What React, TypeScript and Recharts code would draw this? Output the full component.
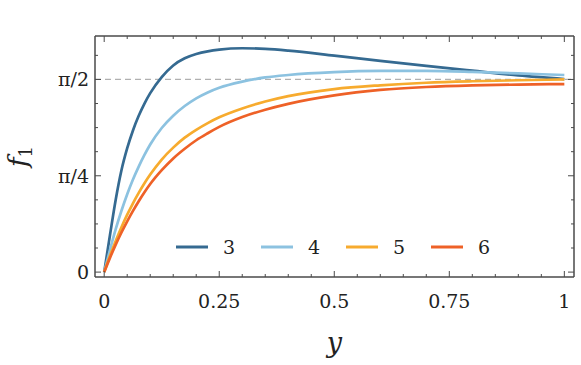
import { LineChart, Line, XAxis, YAxis, ReferenceLine } from "recharts";

const xs = [0, 0.0125, 0.025, 0.0375, 0.05, 0.0625, 0.075, 0.0875, 0.1, 0.125, 0.15, 0.175, 0.2, 0.225, 0.25, 0.3, 0.35, 0.4, 0.5, 0.6, 0.7, 0.8, 0.9, 1.0];
const n3 = [0, 0.3, 0.59, 0.83, 1.01, 1.155, 1.274, 1.374, 1.459, 1.59, 1.685, 1.743, 1.778, 1.8, 1.814, 1.825, 1.82, 1.806, 1.765, 1.722, 1.681, 1.642, 1.604, 1.574];
const n4 = [0, 0.18, 0.35, 0.5, 0.635, 0.755, 0.86, 0.955, 1.04, 1.175, 1.275, 1.354, 1.417, 1.465, 1.503, 1.553, 1.587, 1.607, 1.63, 1.64, 1.641, 1.633, 1.62, 1.607];
const n5 = [0, 0.133, 0.254, 0.366, 0.468, 0.561, 0.646, 0.724, 0.795, 0.918, 1.015, 1.096, 1.16, 1.215, 1.262, 1.334, 1.391, 1.435, 1.492, 1.523, 1.544, 1.556, 1.564, 1.571];
const n6 = [0, 0.116, 0.224, 0.323, 0.414, 0.499, 0.578, 0.651, 0.718, 0.831, 0.927, 1.006, 1.075, 1.132, 1.184, 1.264, 1.324, 1.372, 1.441, 1.485, 1.509, 1.522, 1.529, 1.533];

const seriesNames = ["3", "4", "5", "6"];
const colors = ["#356a91", "#8cc2e0", "#f7ab2e", "#ee6127"];

const xTicks = Array.from({ length: 21 }, (_, i) => i * 0.05);
const yTicks = Array.from({ length: 10 }, (_, i) => (i * Math.PI) / 16);
const yTickLabels = ["0", "π/4", "π/2"];

const data = xs.map((x, i) => ({ x, n3: n3[i], n4: n4[i], n5: n5[i], n6: n6[i] }));

const FONT = "DejaVu Serif";
const FRAME = "#4a4a4a";
const xDomain = [-0.02, 1.021];
const yDomain = [-0.04, 1.925];

const isMajorX = (v: number) => Math.abs(v * 4 - Math.round(v * 4)) < 1e-6;
const yMajorIndex = (v: number) => {
  const q = v / (Math.PI / 4);
  return Math.abs(q - Math.round(q)) < 1e-6 ? Math.round(q) : -1;
};

function BottomTick(props: any) {
  const { x, y, payload } = props;
  const major = isMajorX(payload.value);
  return (
    <g>
      <line x1={x} y1={y} x2={x} y2={y - (major ? 6 : 3)} stroke={FRAME} strokeWidth={1} />
      {major && (
        <text x={x} y={y + 31} textAnchor="middle" style={{ fontFamily: FONT, fontSize: 19 }} fill="#222">
          {String(Math.round(payload.value * 100) / 100)}
        </text>
      )}
    </g>
  );
}

function TopTick(props: any) {
  const { x, y, payload } = props;
  const major = isMajorX(payload.value);
  return <line x1={x} y1={y} x2={x} y2={y + (major ? 6 : 3)} stroke={FRAME} strokeWidth={1} />;
}

function LeftTick(props: any) {
  const { x, y, payload } = props;
  const idx = yMajorIndex(payload.value);
  return (
    <g>
      <line x1={x} y1={y} x2={x + (idx >= 0 ? 6 : 3)} y2={y} stroke={FRAME} strokeWidth={1} />
      {idx >= 0 && (
        <text x={x - 6} y={y + 7} textAnchor="end" style={{ fontFamily: FONT, fontSize: 19 }} fill="#222">
          {yTickLabels[idx]}
        </text>
      )}
    </g>
  );
}

function RightTick(props: any) {
  const { x, y, payload } = props;
  const idx = yMajorIndex(payload.value);
  return <line x1={x} y1={y} x2={x - (idx >= 0 ? 6 : 3)} y2={y} stroke={FRAME} strokeWidth={1} />;
}

function LegendBox() {
  return (
    <div style={{ position: "absolute", top: 236, left: 176, display: "flex", alignItems: "center", fontFamily: FONT, fontSize: 19, color: "#222" }}>
      {seriesNames.map((name, i) => (
        <div key={name} style={{ display: "flex", alignItems: "center", width: 85 }}>
          <svg width={32} height={4} style={{ marginRight: 15 }}>
            <line x1={0} y1={2} x2={32} y2={2} stroke={colors[i]} strokeWidth={3} />
          </svg>
          <span>{name}</span>
        </div>
      ))}
    </div>
  );
}

const frameLine = { stroke: FRAME, strokeWidth: 1.5 };

export default function App() {
  return (
    <div style={{ position: "relative", width: 581, height: 365 }}>
      <style>{`body{margin:0;overflow:hidden;background:#fff}`}</style>
      <LineChart width={581} height={365} data={data} margin={{ top: 35, right: 6, left: 35, bottom: 38 }}>
        <XAxis
          xAxisId="main"
          dataKey="x"
          type="number"
          domain={xDomain}
          allowDataOverflow
          ticks={xTicks}
          interval={0}
          tick={<BottomTick />}
          tickLine={false}
          axisLine={frameLine}
          tickSize={0}
          tickMargin={0}
          height={50}
          label={{
            content: (p: any) => {
              const vb = p.viewBox || {};
              return (
                <text x={vb.x + vb.width / 2} y={vb.y + 75} textAnchor="middle" style={{ fontFamily: FONT, fontStyle: "italic", fontSize: 27 }} fill="#222">
                  y
                </text>
              );
            },
          }}
        />
        <XAxis
          xAxisId="top"
          dataKey="x"
          type="number"
          orientation="top"
          domain={xDomain}
          allowDataOverflow
          ticks={xTicks}
          interval={0}
          tick={<TopTick />}
          tickLine={false}
          axisLine={frameLine}
          tickSize={0}
          tickMargin={0}
          height={1}
        />
        <YAxis
          yAxisId="main"
          type="number"
          domain={yDomain}
          allowDataOverflow
          ticks={yTicks}
          interval={0}
          tick={<LeftTick />}
          tickLine={false}
          axisLine={frameLine}
          tickSize={0}
          tickMargin={0}
          width={60}
          label={{
            content: (p: any) => {
              const vb = p.viewBox || {};
              const cx = vb.x - 8;
              const cy = vb.y + vb.height / 2;
              return (
                <text transform={`rotate(-90, ${cx}, ${cy})`} x={cx} y={cy} textAnchor="middle" style={{ fontFamily: FONT }} fill="#222">
                  <tspan style={{ fontStyle: "italic", fontSize: 26 }}>f</tspan>
                  <tspan style={{ fontSize: 18 }} dy={5}>1</tspan>
                </text>
              );
            },
          }}
        />
        <YAxis
          yAxisId="right"
          type="number"
          orientation="right"
          domain={yDomain}
          allowDataOverflow
          ticks={yTicks}
          interval={0}
          tick={<RightTick />}
          tickLine={false}
          axisLine={frameLine}
          tickSize={0}
          tickMargin={0}
          width={1}
        />
        <ReferenceLine xAxisId="main" yAxisId="main" y={Math.PI / 2} stroke="#b0b0b0" strokeWidth={1.3} strokeDasharray="6 4" />
        {["n3", "n4", "n5", "n6"].map((k, i) => (
          <Line
            key={k}
            xAxisId="main"
            yAxisId="main"
            dataKey={k}
            name={seriesNames[i]}
            type="monotone"
            stroke={colors[i]}
            strokeWidth={2.7}
            dot={false}
            isAnimationActive={false}
          />
        ))}
      </LineChart>
      <LegendBox />
    </div>
  );
}
